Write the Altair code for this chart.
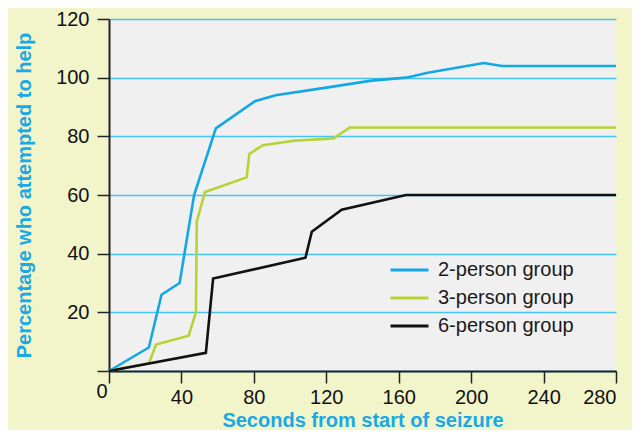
import altair as alt
import pandas as pd

# ---- data ----
series_names = ["2-person group", "3-person group", "6-person group"]
series_colors = ["#13A7E4", "#B5D334", "#111111"]

two_x = [0, 22, 29, 39, 47, 59, 80.6, 92, 120, 145, 164, 176, 207, 217, 280]
two_y = [0, 8, 26, 30, 60, 82.7, 92, 94, 96.6, 99, 100, 101.7, 105, 104, 104]

three_x = [0, 22, 26, 44, 48, 48.5, 53, 76, 77.5, 85, 102, 124, 133, 280]
three_y = [0, 2.6, 9, 12, 20, 51, 61, 66, 74, 77, 78.5, 79.3, 83, 83]

six_x = [0, 53.5, 57.5, 108.5, 112, 128.5, 164, 280]
six_y = [0, 6.2, 31.5, 38.6, 47.5, 55, 60, 60]

x_ticks = [0, 40, 80, 120, 160, 200, 240, 280]
y_ticks = [0, 20, 40, 60, 80, 100, 120]

rows = []
for name, xs, ys in zip(series_names, [two_x, three_x, six_x], [two_y, three_y, six_y]):
    for i, (a, b) in enumerate(zip(xs, ys)):
        rows.append({"series": name, "sec": a, "pct": b, "idx": i})
df = pd.DataFrame(rows)

FONT = "Liberation Sans, Arial, sans-serif"
BLUE_TITLE = "#19A9E6"

chart = (
    alt.Chart(df)
    .mark_line(strokeWidth=2.6)
    .encode(
        x=alt.X(
            "sec:Q",
            scale=alt.Scale(domain=[0, 280], nice=False, zero=True),
            axis=alt.Axis(
                values=x_ticks,
                title="Seconds from start of seizure",
                grid=False,
                titleY=55,
                titleBaseline="alphabetic",
                labelOffset={"condition": {"test": "datum.value == 0", "value": -13}, "value": 0},
                labelPadding={"condition": {"test": "datum.value == 0", "value": -2}, "value": 4},
            ),
        ),
        y=alt.Y(
            "pct:Q",
            scale=alt.Scale(domain=[0, 120], nice=False),
            axis=alt.Axis(
                values=y_ticks,
                title="Percentage who attempted to help",
                grid=True,
                labelExpr="datum.value == 0 ? '' : datum.label",
                labelPadding=8,
                titleX=-79,
                titleY=176,
                titleAngle=270,
                titleAlign="center",
                titleBaseline="alphabetic",
            ),
        ),
        color=alt.Color(
            "series:N",
            scale=alt.Scale(domain=series_names, range=series_colors),
            legend=alt.Legend(
                title=None,
                orient="none",
                legendX=280,
                legendY=238,
                symbolType="stroke",
                symbolSize=1444,
                symbolStrokeWidth=3,
                clipHeight=26,
                rowPadding=2,
                labelOffset=8,
                labelFont=FONT,
                labelFontSize=20,
                labelColor="#1a1a1a",
                labelLimit=300,
            ),
        ),
        order=alt.Order("idx:Q"),
    )
    .properties(
        width=507,
        height=352,
        background="#F2F4CA",
        padding={"left": 101, "top": 11, "right": 16, "bottom": 59},
        autosize=alt.AutoSizeParams(type="none"),
    )
    .configure_view(fill="#F0F0F0", stroke=None)
    .configure_axis(
        labelFont=FONT,
        labelFontSize=20,
        labelColor="#111111",
        titleFont=FONT,
        titleFontSize=20,
        titleFontWeight="bold",
        titleColor=BLUE_TITLE,
        domainColor="#222222",
        domainWidth=2,
        tickColor="#222222",
        tickWidth=1.5,
        tickSize=12,
        gridColor="#45C3EE",
        gridWidth=1.6,
    )
)

chart.save("out.html", embed_options={"renderer": "svg", "actions": False})
